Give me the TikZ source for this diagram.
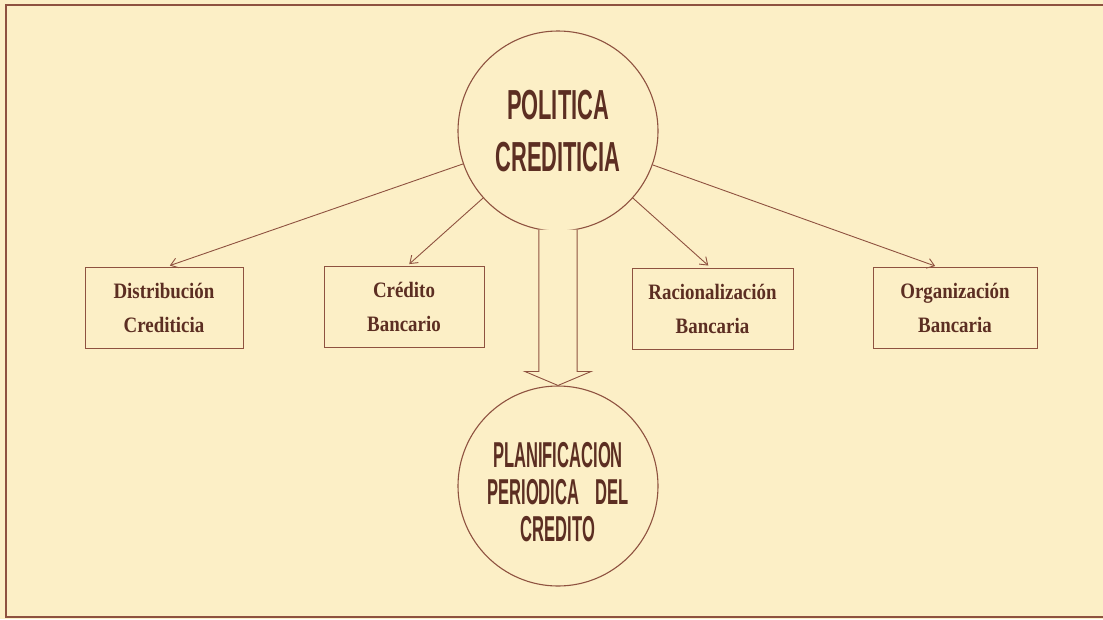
\documentclass[tikz,border=0pt]{standalone}
\usepackage{fontspec}
\usetikzlibrary{arrows.meta,calc}
\newfontfamily\topfont[FakeStretch=0.52]{Liberation Sans}
\newfontfamily\botfont[FakeStretch=0.46]{Liberation Sans}
\newfontfamily\boxfont[FakeStretch=0.86]{Liberation Serif}
\definecolor{paper}{HTML}{FCEFC6}
\definecolor{ink}{HTML}{5C2E22}
\definecolor{linec}{HTML}{8E5240}
\begin{document}
\begin{tikzpicture}[x=1pt,y=-1pt,
  circ/.style={circle,draw=linec,line width=1.1pt,minimum size=200pt,inner sep=0pt,text=ink},
  boxnode/.style={rectangle,draw=linec,line width=0.9pt,minimum height=81pt,inner sep=0pt,
    text=ink,align=center,font=\boxfont\bfseries\fontsize{22}{34}\selectfont},
  arr/.style={draw=linec,line width=0.9pt,-{Straight Barb[length=7pt,width=10pt]},shorten >=3pt},
  frame/.style={draw=linec,line width=1.3pt},
  hollow/.style={draw=linec,line width=0.9pt,fill=paper,line join=miter}]
\fill[paper] (0,0) rectangle (1103,619);
\useasboundingbox (0,0) rectangle (1103,619);
% frame
\draw[frame] (1103,5) -- (6,5) -- (6,617) -- (1103,617);
% circles
\node[circ,align=center,font=\topfont\bfseries\fontsize{42}{52}\selectfont] (pol) at (558,131) {POLITICA\\CREDITICIA};
\node[circ] (plan) at (558,486) {};
\node[align=center,text=ink,inner sep=0pt,font=\botfont\bfseries\fontsize{36}{37}\selectfont] (plantxt) at (558,492)
  {PLANIFICACION\\PERIODICA\hspace{16pt}DEL\\CREDITO};
% boxes
\node[boxnode,minimum width=158pt] (b1) at (164,307.5) {Distribución\\Crediticia};
\node[boxnode,minimum width=160pt] (b2) at (404,307) {Crédito\\Bancario};
\node[boxnode,minimum width=161pt] (b3) at (712.5,308.5) {Racionalización\\Bancaria};
\node[boxnode,minimum width=164pt] (b4) at (955,308) {Organización\\Bancaria};
% arrows
\draw[arr] (pol) -- ([xshift=3pt]b1.north);
\draw[arr] (pol) -- ([xshift=3pt]b2.north);
\draw[arr] (pol) -- ([xshift=-2pt]b3.north);
\draw[arr] (pol) -- ([xshift=-17pt]b4.north);
% hollow arrow
\draw[hollow] (pol.259) -- ($(pol.259)!1!(pol.259|-plan.north)+(0,-14)$) -- ++(-14,0)
  -- (plan.north) -- ($(pol.281|-plan.north)+(14,-14)$) -- ($(pol.281|-plan.north)+(0,-14)$) -- (pol.281);
\end{tikzpicture}
\end{document}
